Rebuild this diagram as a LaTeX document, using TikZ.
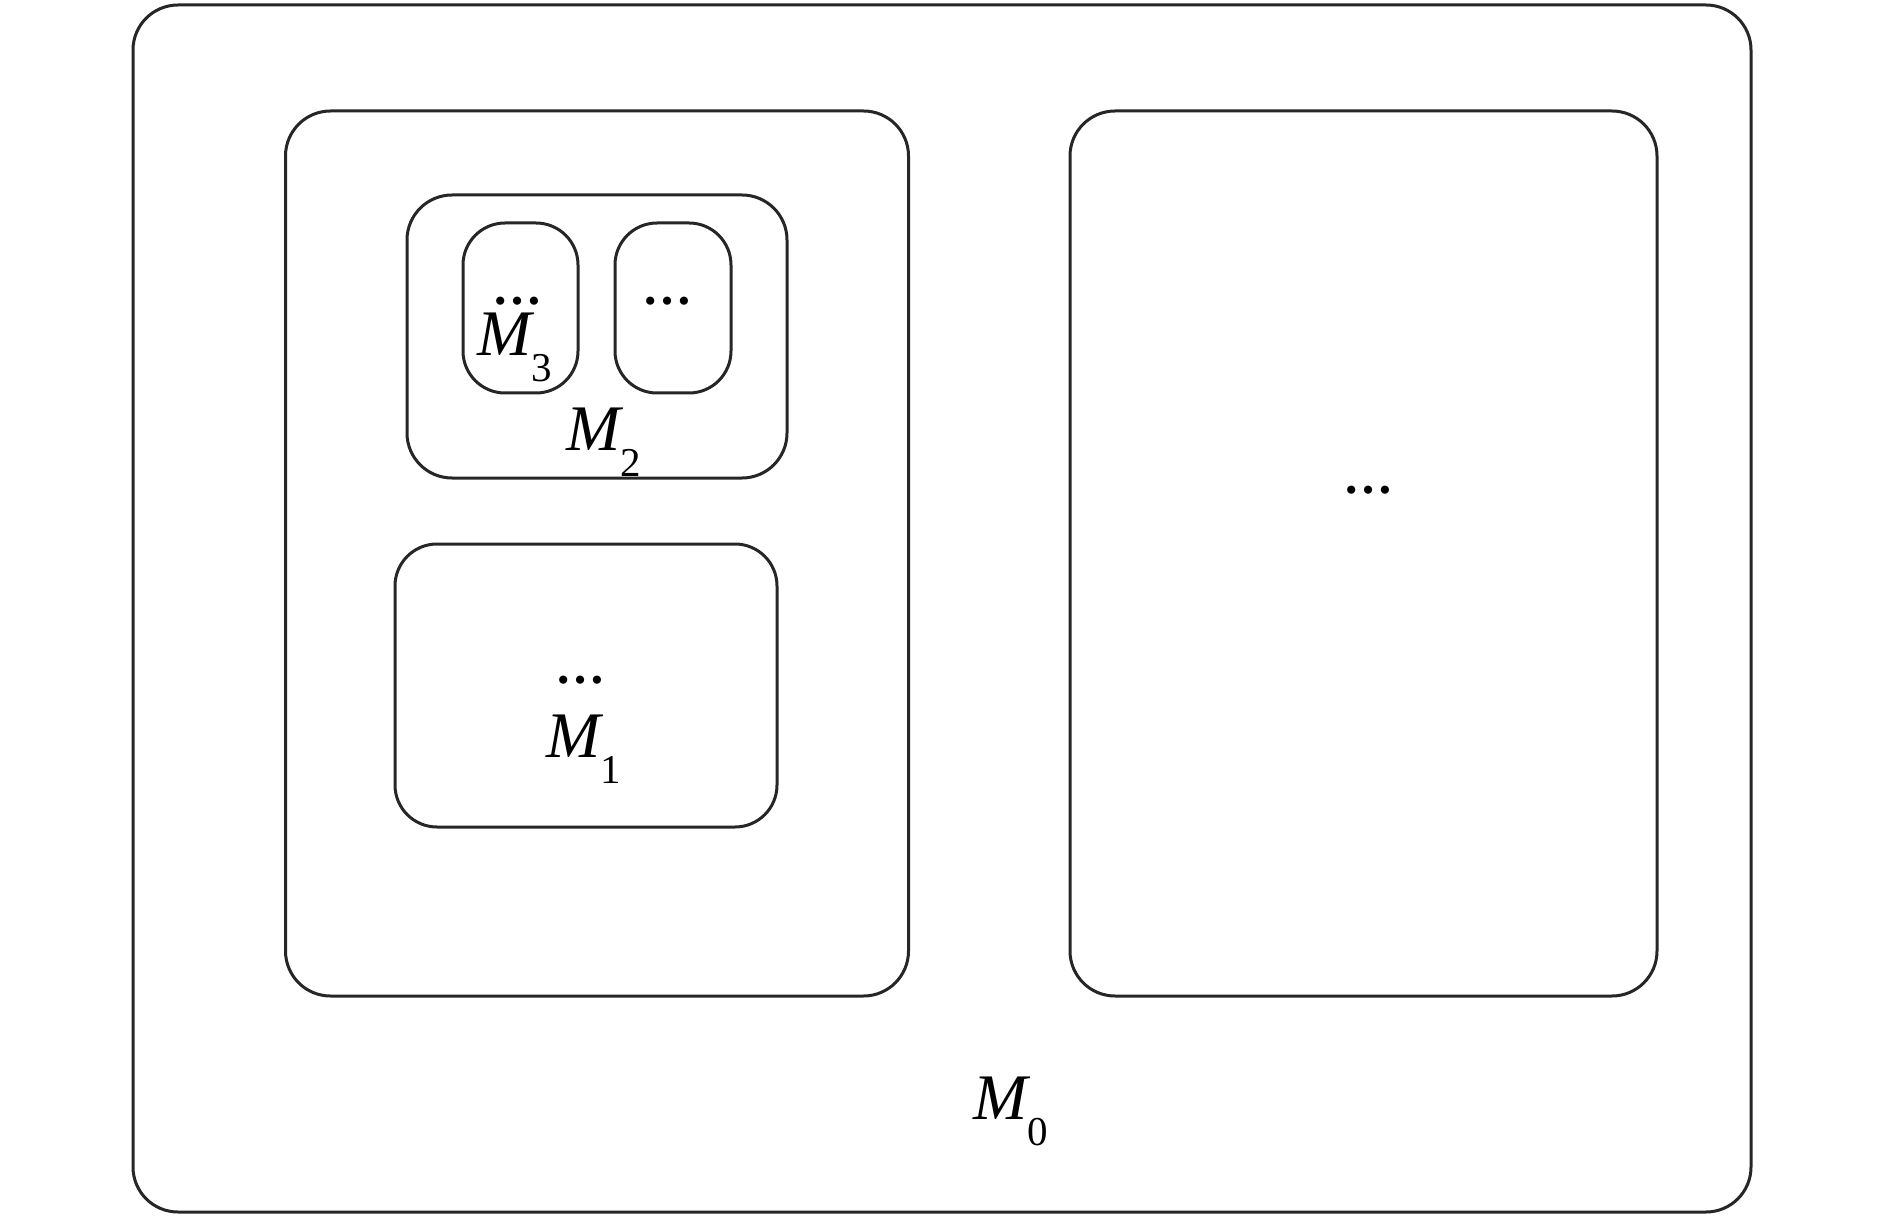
\documentclass[tikz,border=0pt]{standalone}
\usepackage{fontspec}
\setmainfont{Liberation Serif}
\newcommand{\mlab}[1]{{\fontsize{65}{65}\selectfont\itshape M}\raisebox{-26pt}{\fontsize{41}{41}\selectfont #1}}
\tikzset{
  box/.style={draw=black!85, line width=3pt, rounded corners=#1, inner sep=0pt, fill=none},
  lab/.style={inner sep=0pt, anchor=base west},
  dots/.style={inner sep=0pt, anchor=center, font=\fontsize{50}{50}\selectfont\bfseries}
}
\begin{document}
\begin{tikzpicture}[x=1pt,y=-1pt]
\useasboundingbox (0,0) rectangle (1890,1222);
\node[box=45pt, minimum width=1618pt, minimum height=1207pt] (outer) at (942,608.5) {};
\node[box=45pt, minimum width=623pt, minimum height=885pt] (left) at (597,553.5) {};
\node[box=45pt, minimum width=587pt, minimum height=885pt] (right) at (1363.5,553.5) {};
\node[box=45pt, minimum width=380pt, minimum height=283pt] (m2box) at (597,336.5) {};
\node[box=42pt, minimum width=115pt, minimum height=170pt] (m3box) at (520.5,308) {};
\node[box=42pt, minimum width=116pt, minimum height=170pt] (dbox) at (673,308) {};
\node[box=42pt, minimum width=382pt, minimum height=283pt] (m1box) at (586,685.5) {};
% labels
\node[dots] (d3) at (517,301) {…};
\node[lab] (m3) at (477,356) {\mlab{3}};
\node[dots] (dd) at (667,301) {…};
\node[lab] (m2) at (566,450) {\mlab{2}};
\node[dots] (d1) at (580,680) {…};
\node[lab] (m1) at (546,757) {\mlab{1}};
\node[lab] (m0) at (973,1119) {\mlab{0}};
\node[dots] (dr) at (1368,490) {…};
\end{tikzpicture}
\end{document}
